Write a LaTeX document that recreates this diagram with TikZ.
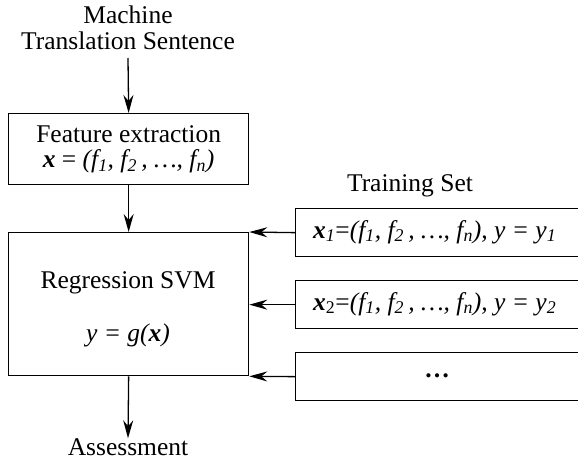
\documentclass[tikz,border=0pt]{standalone}
\usepackage{fontspec}
\setmainfont{Liberation Serif}
\usetikzlibrary{arrows.meta}
\begin{document}
\begin{tikzpicture}[x=1pt,y=-1pt,
  font=\fontsize{25.5}{26}\selectfont,
  box/.style={draw,line width=1.3pt,inner sep=0pt,anchor=north west},
  arr/.style={line width=1.3pt,-{Stealth[length=18pt,width=10pt,inset=6pt]}},
  lbl/.style={inner sep=0pt,align=center}]
\useasboundingbox (0,0) rectangle (578,461);
% top label
\node[lbl] (mts) at (128,28) {Machine\\Translation Sentence};
\coordinate (mtsb) at (128,58);
% feature extraction box
\node[box,minimum width=240pt,minimum height=71pt] (fe) at (8,113) {};
\node[lbl,font=\fontsize{25.5}{25}\selectfont] (fet) at (fe.center) {Feature extraction\\{\bfseries\itshape x} = {\itshape(f\textsubscript{1}, f\textsubscript{2}\,, \dots, f\textsubscript{n})}};
% regression box
\node[box,minimum width=240pt,minimum height=143pt] (svm) at (8,232) {};
\node[lbl] (svmt) at (128,283) {Regression SVM};
\node[lbl] (svmf) at (128,335) {\itshape y = g({\bfseries x})};
% assessment
\node[lbl] (ass) at (128,447) {Assessment};
% training set
\node[lbl] (ts) at (410,186) {Training Set};
\node[box,minimum width=290pt,minimum height=48pt] (t1) at (295,208) {};
\node[box,minimum width=290pt,minimum height=48pt] (t2) at (295,280) {};
\node[box,minimum width=290pt,minimum height=48pt] (t3) at (295,352) {};
\node[lbl,anchor=west] (t1t) at (313,232) {{\bfseries\itshape x}\textsubscript{\itshape 1}=\itshape(f\textsubscript{1}, f\textsubscript{2}\,, \dots, f\textsubscript{n}), y = y\textsubscript{1}};
\node[lbl,anchor=west] (t2t) at (313,304) {{\bfseries\itshape x}\textsubscript{2}=\itshape(f\textsubscript{1}, f\textsubscript{2}\,, \dots, f\textsubscript{n}), y = y\textsubscript{2}};
\node[lbl] (t3t) at (437,376) {\bfseries\dots};
% arrows
\draw[arr] (mtsb) -- (fe.north);
\draw[arr] (fe.south) -- (svm.north);
\draw[arr] (svm.south) -- (ass.north);
\draw[arr] (t1.west) -- (svm.north east);
\draw[arr] (t2.west) -- (t2.west -| svm.east);
\draw[arr] (t3.west) -- (svm.south east);
\end{tikzpicture}
\end{document}
